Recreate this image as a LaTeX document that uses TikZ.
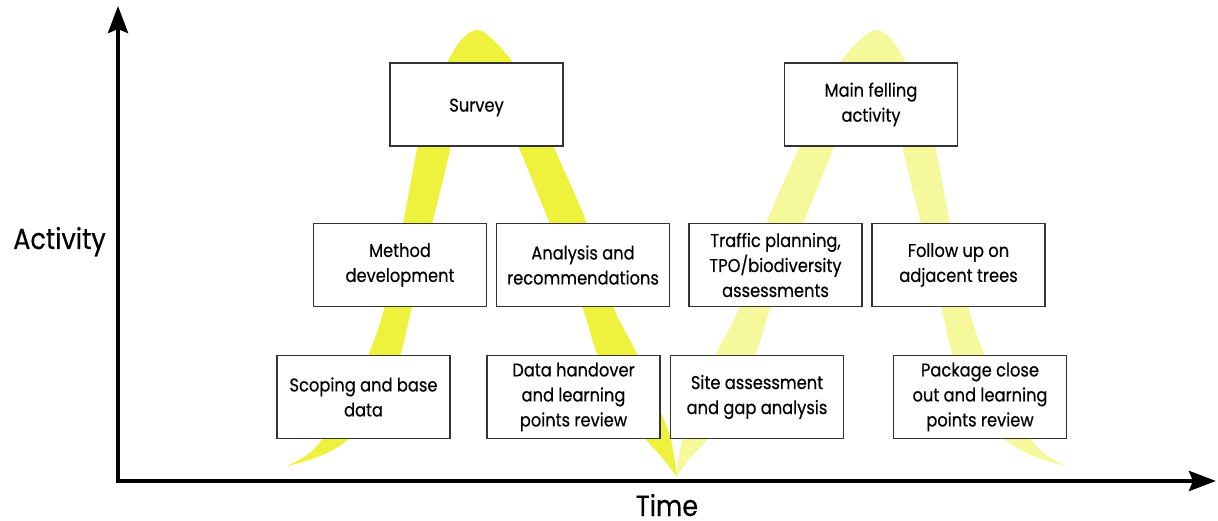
\documentclass[tikz,border=0pt]{standalone}
\usepackage{fontspec}
\setmainfont{Poppins}[FakeStretch=0.88, FakeBold=0.4]
\usetikzlibrary{arrows.meta}
\definecolor{ylwA}{RGB}{238,242,60}
\definecolor{ylwB}{RGB}{245,248,155}
\definecolor{boxline}{RGB}{51,51,51}
\tikzset{
  crescent/.pic={
    \fill[#1] plot[smooth,tension=0.55] coordinates {(287,466) (307,455) (323,438) (345,398) (368,356) (385,306) (403,224) (417,150) (430,103) (447,63) (462,39) (477,30) (492,39) (513,63) (535,105) (555,150) (587,224) (613,306) (638,356) (660,410) (671,440) (677,477)}
      -- plot[smooth,tension=0.55] coordinates {(677,477) (661,456) (645,438) (620,396) (598,356) (582,306) (550,224) (520,150) (500,105) (482,78) (470,78) (458,105) (450,150) (432,224) (412,306) (400,356) (382,400) (350,438) (320,456) (287,466)}
      -- cycle;
  }
}
\begin{document}
\begin{tikzpicture}[x=1pt,y=-1pt,
  box/.style={draw=boxline, line width=1.3pt, fill=white, minimum width=173pt, minimum height=83pt, align=center, inner sep=0pt, font=\fontsize{18.5}{25}\selectfont, execute at begin node=\rule{0pt}{19pt}},
  axis/.style={line width=4pt, line join=miter, {Stealth[length=27pt,width=20pt,inset=4pt]}-{Stealth[length=27pt,width=20pt,inset=4pt]}},
  biglabel/.style={font=\fontsize{29}{32}\selectfont, inner sep=0pt, anchor=base}]
\useasboundingbox (0,0) rectangle (1218,521);
\pic at (0,0) {crescent=ylwB};
\pic[xscale=-1] at (1353,0) {crescent=ylwB};
\pic at (0,0) {crescent=ylwA};
\coordinate (O) at (118,481);
\coordinate (ytop) at (118,6);
\coordinate (xend) at (1216,481);
\draw[axis] (ytop) -- (O) -- (xend);
\node[biglabel] (act) at (59.5,249) {Activity};
\node[biglabel] (time) at (667,516) {Time};
\node[box] (survey) at (476.5,104.5) {Survey};
\node[box] (method) at (400,265) {Method\\development};
\node[box] (analysis) at (583,265) {Analysis and\\recommendations};
\node[box] (scoping) at (363.5,397) {Scoping and base\\data};
\node[box] (handover) at (573.5,397) {Data handover\\and learning\\points review};
\node[box] (felling) at (871,104.5) {Main felling\\activity};
\node[box] (traffic) at (775.5,265) {Traffic planning,\\TPO/biodiversity\\assessments};
\node[box] (follow) at (958.5,265) {Follow up on\\adjacent trees};
\node[box] (site) at (757,397) {Site assessment\\and gap analysis};
\node[box] (package) at (980,397) {Package close\\out and learning\\points review};
\end{tikzpicture}
\end{document}
